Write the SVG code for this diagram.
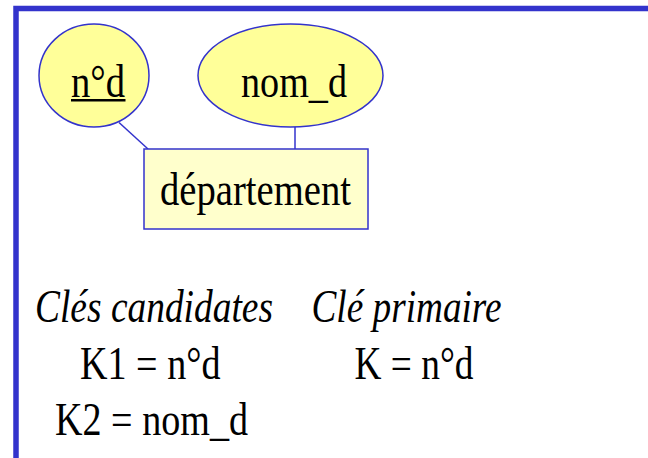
<svg xmlns="http://www.w3.org/2000/svg" width="648" height="458" viewBox="0 0 648 458">
<style>
.frame{fill:none;stroke:#3333CC;stroke-width:5.5}
.attr{fill:#FFFF99;stroke:#3333CC;stroke-width:1.5}
.ent{fill:#FFFFCC;stroke:#3333CC;stroke-width:1.5}
.conn line{stroke:#3333CC;stroke-width:1.5}
text{font-family:"Liberation Serif","Times New Roman",serif;fill:#000;font-size:46px}
.it{font-style:italic}
</style>
<rect width="648" height="458" fill="#fff"/>
<path class="frame" d="M16 458 V8.5 H648"/>
<g class="conn" id="connectors">
<line x1="119" y1="122.5" x2="148" y2="149"/>
<line x1="295" y1="127" x2="295" y2="149"/>
</g>
<g id="attr-nd">
<ellipse class="attr" cx="94" cy="75.5" rx="55" ry="51.5"/>
<text x="71" y="96.5" textLength="54" lengthAdjust="spacingAndGlyphs">n°d</text>
<rect x="71" y="99" width="54.5" height="2.5" fill="#000"/>
</g>
<g id="attr-nomd">
<ellipse class="attr" cx="290.5" cy="75.5" rx="92.5" ry="51.5"/>
<text x="241" y="96.5" textLength="106" lengthAdjust="spacingAndGlyphs">nom_d</text>
</g>
<g id="entity-departement">
<rect class="ent" x="144" y="149" width="224" height="80"/>
<text x="160" y="205" textLength="191" lengthAdjust="spacingAndGlyphs">département</text>
</g>
<g id="keys">
<text class="it" x="35" y="321.5" textLength="238" lengthAdjust="spacingAndGlyphs">Clés candidates</text>
<text class="it" x="311.5" y="321.5" textLength="190" lengthAdjust="spacingAndGlyphs">Clé primaire</text>
<text x="80" y="378.5" textLength="140.5" lengthAdjust="spacingAndGlyphs">K1 = n°d</text>
<text x="354.5" y="378.5" textLength="119" lengthAdjust="spacingAndGlyphs">K = n°d</text>
<text x="55" y="435" textLength="193" lengthAdjust="spacingAndGlyphs">K2 = nom_d</text>
</g>
</svg>
